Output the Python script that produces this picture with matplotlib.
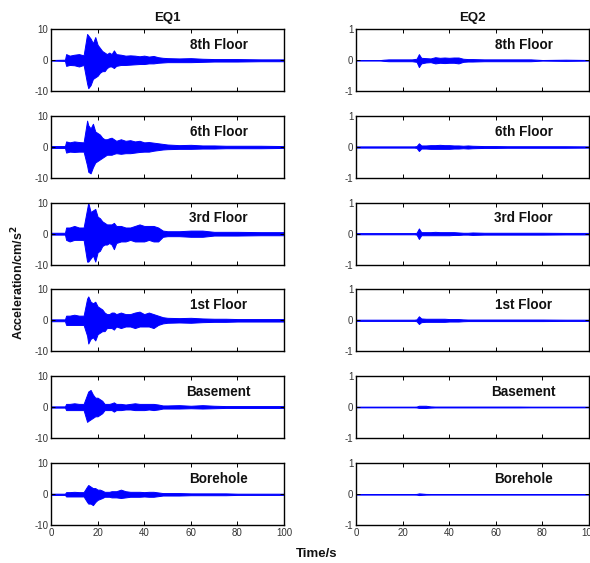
import matplotlib
matplotlib.use("Agg")
import matplotlib.pyplot as plt

plt.rcParams['font.family'] = ['Liberation Sans', 'DejaVu Sans']
plt.rcParams['axes.unicode_minus'] = False

# ---------------- data (envelopes) ----------------
time_s = [0, 6, 6.5, 8, 10, 12, 14, 15.5, 16, 17, 18, 19, 20, 21, 22, 23, 24, 25, 26, 27,
          28, 30, 32, 34, 36, 38, 40, 42, 44, 46, 48, 50, 55, 60, 65, 70, 75, 80, 90, 100]

floors = ["8th Floor", "6th Floor", "3rd Floor", "1st Floor", "Basement", "Borehole"]
events = ["EQ1", "EQ2"]
eq1_yticks = [-10, 0, 10]
eq2_yticks = [-1, 0, 1]
x_ticks = [0, 20, 40, 60, 80, 100]

# EQ1 (cm/s^2) upper / lower envelopes
eq1_8th_up = [0.1, 0.2, 2.0, 1.5, 1.8, 2.0, 1.6, 8.5, 8.0, 7.0, 5.5, 7.5, 5.0, 4.0, 3.0, 2.5, 2.0, 2.5, 2.0, 3.2,
              2.0, 1.8, 1.5, 1.6, 1.5, 1.3, 1.5, 1.2, 1.4, 1.0, 0.8, 0.7, 0.6, 0.7, 0.5, 0.4, 0.4, 0.4, 0.3, 0.3]
eq1_8th_lo = [-0.1, -0.2, -1.8, -1.5, -1.6, -2.0, -1.5, -7.5, -9.0, -8.0, -6.0, -5.5, -5.0, -4.0, -3.5, -3.5, -2.5, -2.0, -2.0, -2.5,
              -1.8, -1.5, -1.5, -1.4, -1.3, -1.2, -1.2, -1.0, -1.0, -0.8, -0.7, -0.6, -0.6, -0.6, -0.5, -0.4, -0.4, -0.4, -0.3, -0.3]

eq1_6th_up = [0.3, 0.3, 1.8, 1.5, 1.8, 1.6, 1.5, 8.5, 7.0, 6.0, 7.5, 5.0, 4.5, 4.0, 3.0, 2.5, 2.5, 2.8, 3.0, 2.5,
              2.0, 2.5, 2.0, 2.2, 1.8, 2.0, 1.5, 1.6, 1.4, 1.2, 1.0, 0.8, 0.6, 0.7, 0.5, 0.5, 0.4, 0.4, 0.4, 0.3]
eq1_6th_lo = [-0.3, -0.3, -1.8, -1.5, -1.6, -1.5, -1.5, -6.0, -8.0, -8.5, -6.5, -5.0, -4.5, -4.0, -3.5, -3.0, -2.5, -2.5, -2.5, -2.2,
              -2.0, -2.2, -2.0, -2.0, -1.8, -1.6, -1.5, -1.5, -1.2, -1.0, -0.8, -0.7, -0.6, -0.6, -0.5, -0.5, -0.4, -0.4, -0.4, -0.3]

eq1_3rd_up = [0.3, 0.3, 2.0, 2.0, 2.5, 2.0, 2.0, 8.0, 10.0, 7.0, 7.5, 8.0, 5.5, 5.0, 4.0, 3.5, 3.0, 3.0, 3.0, 3.5,
              2.5, 2.5, 2.0, 2.0, 2.5, 3.0, 2.5, 2.5, 2.5, 2.0, 1.0, 0.8, 0.8, 1.0, 1.0, 0.6, 0.6, 0.6, 0.5, 0.5]
eq1_3rd_lo = [-0.3, -0.3, -2.0, -2.5, -2.0, -2.0, -2.0, -9.0, -9.0, -8.0, -7.0, -9.0, -6.0, -5.5, -4.0, -3.5, -3.5, -3.0, -3.5, -5.0,
              -3.0, -2.5, -2.5, -2.0, -2.5, -2.5, -2.5, -2.0, -2.5, -2.5, -1.0, -0.8, -0.8, -1.0, -1.0, -0.6, -0.6, -0.6, -0.5, -0.5]

eq1_1st_up = [0.3, 0.3, 1.5, 1.5, 1.8, 1.5, 1.5, 7.0, 7.7, 6.0, 5.5, 6.0, 4.5, 4.0, 3.5, 2.5, 2.0, 2.0, 2.5, 2.5,
              2.0, 2.5, 2.0, 2.0, 2.5, 2.8, 2.0, 2.5, 2.0, 1.5, 1.0, 0.8, 0.7, 0.8, 0.6, 0.5, 0.5, 0.4, 0.4, 0.4]
eq1_1st_lo = [-0.3, -0.3, -1.5, -1.5, -1.5, -1.5, -1.5, -5.0, -7.5, -6.0, -5.5, -6.5, -4.5, -4.0, -3.5, -3.5, -2.5, -2.5, -2.5, -3.0,
              -2.0, -2.5, -2.0, -2.0, -2.5, -2.0, -2.0, -2.0, -2.5, -1.5, -1.0, -0.8, -0.7, -0.8, -0.6, -0.5, -0.5, -0.4, -0.4, -0.4]

eq1_base_up = [0.2, 0.2, 1.0, 1.0, 1.2, 1.0, 1.0, 4.0, 5.0, 5.5, 4.0, 3.0, 3.0, 2.5, 2.0, 1.0, 1.0, 1.0, 1.2, 1.5,
               1.0, 1.0, 0.8, 1.0, 1.2, 1.0, 1.0, 1.0, 1.0, 0.8, 0.5, 0.5, 0.6, 0.4, 0.6, 0.4, 0.3, 0.3, 0.3, 0.3]
eq1_base_lo = [-0.2, -0.2, -1.0, -1.0, -1.0, -1.0, -1.0, -4.8, -4.5, -4.0, -3.5, -3.0, -3.0, -2.5, -2.0, -1.0, -1.0, -1.0, -1.0, -1.5,
               -1.0, -1.0, -0.8, -0.8, -1.0, -1.0, -1.0, -0.8, -1.0, -0.8, -0.5, -0.5, -0.5, -0.4, -0.5, -0.4, -0.3, -0.3, -0.3, -0.3]

eq1_bore_up = [0.2, 0.2, 0.7, 0.7, 0.8, 0.7, 0.7, 2.5, 3.0, 2.5, 2.0, 2.0, 1.5, 1.5, 1.2, 0.8, 0.8, 0.8, 1.0, 1.0,
               1.0, 1.5, 1.0, 0.8, 0.8, 0.8, 0.7, 0.8, 0.8, 0.6, 0.4, 0.4, 0.4, 0.3, 0.3, 0.3, 0.3, 0.2, 0.2, 0.2]
eq1_bore_lo = [-0.2, -0.2, -0.7, -0.7, -0.7, -0.7, -0.7, -2.5, -3.0, -3.0, -3.5, -2.5, -1.8, -1.5, -1.2, -0.8, -0.8, -0.8, -1.0, -1.0,
               -1.0, -1.2, -1.0, -0.8, -0.8, -0.8, -0.7, -0.8, -0.8, -0.6, -0.4, -0.4, -0.4, -0.3, -0.3, -0.3, -0.3, -0.2, -0.2, -0.2]

# EQ2 (cm/s^2) upper / lower envelopes
eq2_8th_up = [0.005, 0.005, 0.005, 0.005, 0.005, 0.02, 0.03, 0.03, 0.03, 0.03, 0.03, 0.03, 0.03, 0.03, 0.03, 0.03, 0.03, 0.04, 0.05, 0.20,
              0.08, 0.07, 0.06, 0.10, 0.08, 0.09, 0.08, 0.09, 0.09, 0.05, 0.04, 0.04, 0.03, 0.03, 0.03, 0.03, 0.03, 0.01, 0.02, 0.01]
eq2_8th_lo = [-0.005, -0.005, -0.005, -0.005, -0.005, -0.02, -0.03, -0.03, -0.03, -0.03, -0.03, -0.03, -0.03, -0.03, -0.03, -0.03, -0.03, -0.04, -0.05, -0.22,
              -0.10, -0.07, -0.06, -0.10, -0.08, -0.09, -0.08, -0.08, -0.10, -0.05, -0.04, -0.04, -0.03, -0.03, -0.03, -0.03, -0.03, -0.01, -0.02, -0.01]

eq2_6th_up = [0.02, 0.02, 0.02, 0.02, 0.02, 0.02, 0.02, 0.02, 0.02, 0.02, 0.02, 0.02, 0.02, 0.02, 0.02, 0.02, 0.02, 0.02, 0.03, 0.12,
              0.05, 0.05, 0.06, 0.06, 0.07, 0.06, 0.06, 0.05, 0.05, 0.04, 0.05, 0.04, 0.03, 0.03, 0.025, 0.025, 0.025, 0.025, 0.025, 0.02]
eq2_6th_lo = [-0.02, -0.02, -0.02, -0.02, -0.02, -0.02, -0.02, -0.02, -0.02, -0.02, -0.02, -0.02, -0.02, -0.02, -0.02, -0.02, -0.02, -0.02, -0.03, -0.13,
              -0.05, -0.05, -0.06, -0.06, -0.06, -0.06, -0.06, -0.05, -0.05, -0.04, -0.05, -0.04, -0.03, -0.03, -0.025, -0.025, -0.025, -0.025, -0.025, -0.02]

eq2_3rd_up = [0.02, 0.02, 0.02, 0.02, 0.02, 0.02, 0.02, 0.02, 0.02, 0.02, 0.02, 0.02, 0.02, 0.02, 0.02, 0.02, 0.02, 0.02, 0.03, 0.17,
              0.05, 0.05, 0.05, 0.06, 0.05, 0.05, 0.05, 0.05, 0.04, 0.03, 0.03, 0.04, 0.03, 0.03, 0.03, 0.03, 0.03, 0.03, 0.025, 0.025]
eq2_3rd_lo = [-0.02, -0.02, -0.02, -0.02, -0.02, -0.02, -0.02, -0.02, -0.02, -0.02, -0.02, -0.02, -0.02, -0.02, -0.02, -0.02, -0.02, -0.02, -0.03, -0.17,
              -0.05, -0.05, -0.05, -0.05, -0.05, -0.05, -0.05, -0.04, -0.04, -0.03, -0.03, -0.04, -0.03, -0.03, -0.03, -0.03, -0.03, -0.03, -0.025, -0.025]

eq2_1st_up = [0.02, 0.02, 0.02, 0.02, 0.02, 0.02, 0.02, 0.02, 0.02, 0.02, 0.02, 0.02, 0.02, 0.02, 0.02, 0.02, 0.02, 0.02, 0.03, 0.13,
              0.06, 0.05, 0.05, 0.05, 0.05, 0.05, 0.04, 0.04, 0.04, 0.03, 0.025, 0.025, 0.025, 0.025, 0.025, 0.025, 0.025, 0.025, 0.02, 0.02]
eq2_1st_lo = [-0.02, -0.02, -0.02, -0.02, -0.02, -0.02, -0.02, -0.02, -0.02, -0.02, -0.02, -0.02, -0.02, -0.02, -0.02, -0.02, -0.02, -0.02, -0.03, -0.12,
              -0.06, -0.05, -0.05, -0.05, -0.05, -0.05, -0.04, -0.04, -0.04, -0.03, -0.025, -0.025, -0.025, -0.025, -0.025, -0.025, -0.025, -0.025, -0.02, -0.02]

eq2_base_up = [0.012, 0.012, 0.012, 0.012, 0.012, 0.012, 0.012, 0.012, 0.012, 0.012, 0.012, 0.012, 0.012, 0.012, 0.012, 0.012, 0.012, 0.012, 0.015, 0.04,
               0.04, 0.04, 0.02, 0.015, 0.015, 0.015, 0.015, 0.015, 0.015, 0.015, 0.015, 0.015, 0.015, 0.015, 0.015, 0.015, 0.012, 0.012, 0.012, 0.012]
eq2_base_lo = [-0.012, -0.012, -0.012, -0.012, -0.012, -0.012, -0.012, -0.012, -0.012, -0.012, -0.012, -0.012, -0.012, -0.012, -0.012, -0.012, -0.012, -0.012, -0.015, -0.03,
               -0.03, -0.03, -0.02, -0.015, -0.015, -0.015, -0.015, -0.015, -0.015, -0.015, -0.015, -0.015, -0.015, -0.015, -0.015, -0.015, -0.012, -0.012, -0.012, -0.012]

eq2_bore_up = [0.01, 0.01, 0.01, 0.01, 0.01, 0.01, 0.01, 0.01, 0.01, 0.01, 0.01, 0.01, 0.01, 0.01, 0.01, 0.01, 0.01, 0.01, 0.012, 0.03,
               0.025, 0.012, 0.01, 0.01, 0.01, 0.01, 0.01, 0.01, 0.01, 0.01, 0.01, 0.01, 0.01, 0.01, 0.01, 0.01, 0.01, 0.01, 0.01, 0.01]
eq2_bore_lo = [-0.01, -0.01, -0.01, -0.01, -0.01, -0.01, -0.01, -0.01, -0.01, -0.01, -0.01, -0.01, -0.01, -0.01, -0.01, -0.01, -0.01, -0.01, -0.012, -0.025,
               -0.02, -0.012, -0.01, -0.01, -0.01, -0.01, -0.01, -0.01, -0.01, -0.01, -0.01, -0.01, -0.01, -0.01, -0.01, -0.01, -0.01, -0.01, -0.01, -0.01]

eq1_panels = [(eq1_8th_up, eq1_8th_lo), (eq1_6th_up, eq1_6th_lo), (eq1_3rd_up, eq1_3rd_lo),
              (eq1_1st_up, eq1_1st_lo), (eq1_base_up, eq1_base_lo), (eq1_bore_up, eq1_bore_lo)]
eq2_panels = [(eq2_8th_up, eq2_8th_lo), (eq2_6th_up, eq2_6th_lo), (eq2_3rd_up, eq2_3rd_lo),
              (eq2_1st_up, eq2_1st_lo), (eq2_base_up, eq2_base_lo), (eq2_bore_up, eq2_bore_lo)]

# ---------------- figure ----------------
W, H = 590, 563
fig = plt.figure(figsize=(W / 100, H / 100), dpi=100)

col_left = [51, 356]
col_width = 233
row_top = [29.3, 116, 202.7, 289.3, 376, 463.3]
row_h = 62

wave_color = '#0000ff'
tick_color = '#333333'

for c, (panels, yt) in enumerate([(eq1_panels, eq1_yticks), (eq2_panels, eq2_yticks)]):
    for r, (up, lo) in enumerate(panels):
        ax = fig.add_axes([col_left[c] / W, 1 - (row_top[r] + row_h) / H, col_width / W, row_h / H])
        ax.fill_between(time_s, lo, up, color=wave_color, lw=0.7)
        ax.set_xlim(0, 100)
        ax.set_ylim(yt[0], yt[-1])
        ax.set_yticks(yt)
        ax.set_xticks(x_ticks)
        ax.tick_params(direction='in', length=3, width=0.7, top=True, right=True,
                       labelsize=7, labelcolor=tick_color, pad=2)
        if r < len(panels) - 1:
            ax.set_xticklabels([])
        for sp in ax.spines.values():
            sp.set_linewidth(1.0)
            sp.set_color('black')
        ax.text(0.72, 0.75, floors[r], transform=ax.transAxes, ha='center', va='center',
                fontsize=9.75, fontweight='bold', color='#111111')
        if r == 0:
            ax.set_title(events[c], fontsize=9.5, fontweight='bold', pad=6, color='#111111')

fig.text(18 / W, 1 - 283 / H, 'Acceleration/cm/s$^\\mathbf{2}$', rotation=90, ha='center', va='center',
         fontsize=9, fontweight='bold', color='#111111')
fig.text(317 / W, 1 - 554 / H, 'Time/s', ha='center', va='center',
         fontsize=9.5, fontweight='bold', color='#111111')

fig.savefig('out.png', dpi=100)
